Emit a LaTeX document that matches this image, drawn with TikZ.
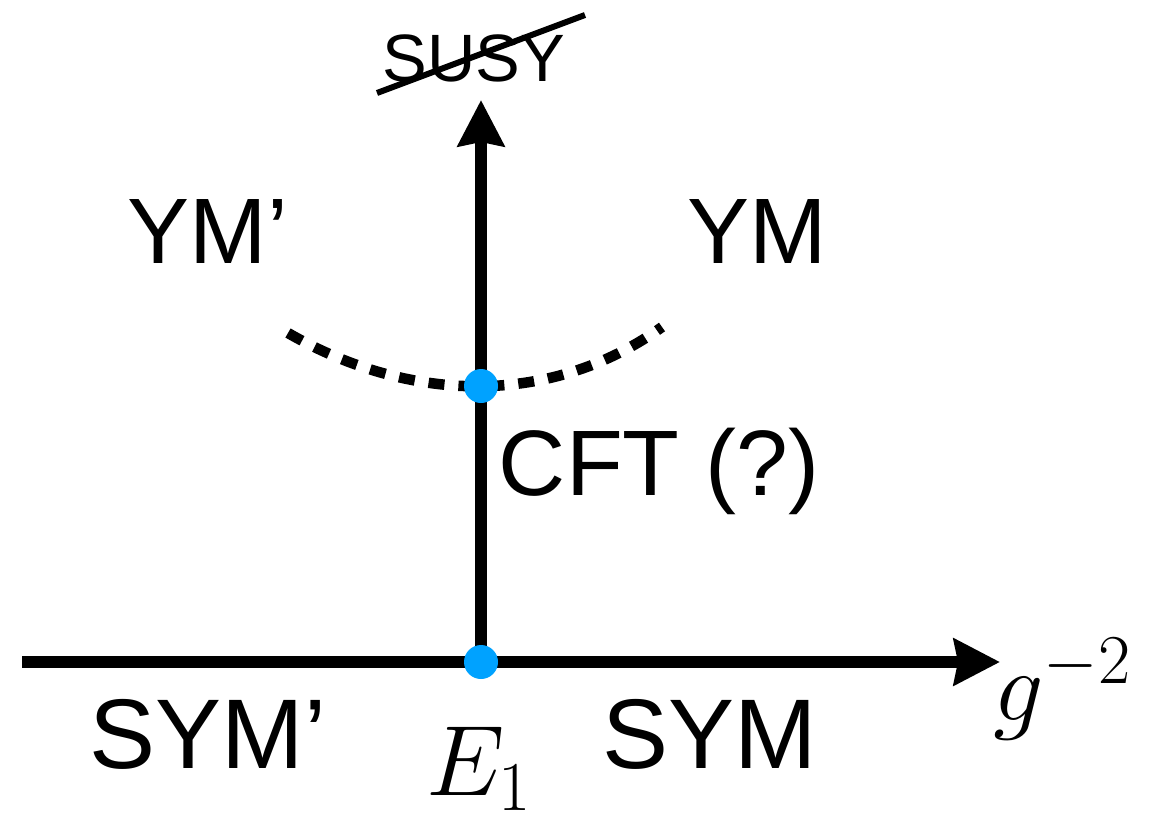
\RequirePackage{fix-cm}
\documentclass[tikz,border=0pt]{standalone}
\usepackage{fontspec}
\setmainfont{Liberation Sans}
\usetikzlibrary{arrows.meta}
\definecolor{dotblue}{RGB}{0,162,255}
\begin{document}
\begin{tikzpicture}[x=1pt,y=-1pt,
  axis/.style={line width=12pt,-{Stealth[length=46pt,width=46pt,inset=4pt]}},
  lbl/.style={inner sep=0pt,anchor=base,font=\fontsize{93}{100}\selectfont},
  biglbl/.style={inner sep=0pt,anchor=base,font=\fontsize{99}{104}\selectfont},
  mathlbl/.style={inner sep=0pt,anchor=base,font=\fontsize{100}{108}\selectfont},
  bdot/.style={circle,fill=dotblue,inner sep=0pt,minimum size=34pt},
  dashcurve/.style={line width=10.5pt,dash pattern=on 16pt off 14pt}]
\useasboundingbox (0,0) rectangle (1167,812);
% axes
\coordinate (hstart) at (22,662);
\coordinate (htip) at (1000,662);
\coordinate (origin) at (481,662);
\coordinate (vtip) at (481,100);
\draw[axis] (hstart) -- (htip);
\draw[axis] (origin) -- (vtip);
% dashed curve
\coordinate (cl) at (288,333);
\coordinate (cr) at (662,327);
\draw[dashcurve] (cl) .. controls (413,405) and (553,405) .. (cr);
% dots
\node[bdot] (d1) at (481,386) {};
\node[bdot] (d0) at (origin) {};
% labels
\node[lbl] (ymp) at (208,263) {YM’};
\node[lbl] (ym) at (757,263) {YM};
\node[lbl] (cft) at (659,495) {CFT (?)};
\node[biglbl] (symp) at (208,768) {SYM’};
\node[biglbl] (sym) at (710,768) {SYM};
\node[inner sep=0pt,anchor=base,font=\fontsize{67}{72}\selectfont] (susy) at (474,81) {SUSY};
\coordinate (s1) at (377,93);
\coordinate (s2) at (585,15);
\draw[line width=6pt] (s1) -- (s2);
\node[mathlbl] (e1) at (479,795) {$E_1$};
\node[mathlbl] (g) at (1062,720) {$g^{-2}$};
\end{tikzpicture}
\end{document}
